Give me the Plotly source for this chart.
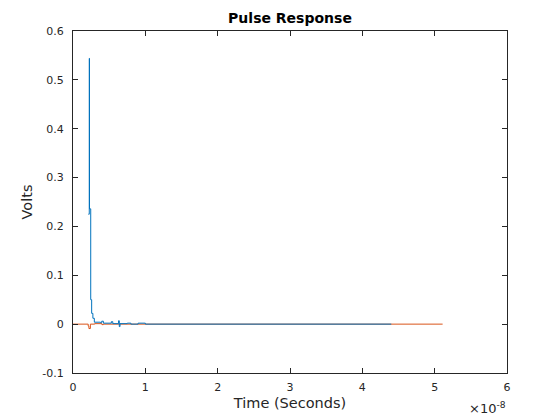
"""
Pulse response plot (MATLAB-like styling) with Plotly.
"""

import plotly.graph_objects as go

# time in nanoseconds, converted to seconds below
t_blue_ns = [2.12, 2.25, 2.28, 2.45, 2.58, 2.75, 2.95, 3.8, 3.97, 4.2, 5.3, 5.5,
             6.3, 6.4, 6.5, 7.5, 8.0, 9.0, 10.0, 44.0]
v_blue = [0.225, 0.544, 0.236, 0.05, 0.022, 0.012, 0.004, 0.003, 0.006, 0.002,
          0.005, 0.001, 0.007, -0.005, 0.001, 0.002, 0.0, 0.002, 0.0, 0.0]

t_orange_ns = [0.0, 2.1, 2.2, 2.4, 3.0, 4.0, 4.2, 51.1]
v_orange = [0.0, -0.004, -0.009, 0.0, 0.001, -0.001, 0.0, 0.0]

x_ticks = [0, 1, 2, 3, 4, 5, 6]
y_ticks = [-0.1, 0, 0.1, 0.2, 0.3, 0.4, 0.5, 0.6]
y_tick_labels = ["-0.1", "0", "0.1", "0.2", "0.3", "0.4", "0.5", "0.6"]

fig = go.Figure()

fig.add_trace(
    go.Scatter(
        x=[t * 1e-9 for t in t_orange_ns],
        y=v_orange,
        mode="lines",
        line=dict(color="#D95319", width=1, shape="hv"),
        showlegend=False,
    )
)
fig.add_trace(
    go.Scatter(
        x=[t * 1e-9 for t in t_blue_ns],
        y=v_blue,
        mode="lines",
        line=dict(color="#0072BD", width=1, shape="hv"),
        showlegend=False,
    )
)

axis_style = dict(
    showline=True,
    linecolor="#262626",
    linewidth=1,
    mirror="ticks",
    ticks="inside",
    ticklen=5,
    tickcolor="#262626",
    showgrid=False,
    zeroline=False,
    tickfont=dict(size=11, color="#262626"),
)

# the page has an 8px body margin, so the figure is 8px smaller than the window
fig.update_layout(
    width=552,
    height=412,
    margin=dict(l=65, r=53, t=23, b=47),
    paper_bgcolor="white",
    plot_bgcolor="white",
    font=dict(family="DejaVu Sans", color="#262626"),
    title=dict(
        text="<b>Pulse Response</b>",
        x=(65 + 499) / 2 / 552,
        xanchor="center",
        y=1 - 10.5 / 412,
        yanchor="middle",
        font=dict(size=14, color="black"),
    ),
    xaxis=dict(
        range=[0, 6e-8],
        tickvals=[v * 1e-8 for v in x_ticks],
        ticktext=[str(v) for v in x_ticks],
        ticklabelstandoff=4,
        title=dict(text="Time (Seconds)", font=dict(size=14.5), standoff=4),
        **axis_style,
    ),
    yaxis=dict(
        range=[-0.1, 0.6],
        tickvals=y_ticks,
        ticktext=y_tick_labels,
        ticklabelstandoff=6,
        title=dict(text="Volts", font=dict(size=14.5), standoff=6),
        **axis_style,
    ),
)

fig.add_annotation(
    text="×10<sup>-8</sup>",
    xref="paper",
    yref="paper",
    x=1.0,
    y=-0.13,
    xanchor="right",
    yanchor="bottom",
    showarrow=False,
    borderpad=0,
    font=dict(size=13, color="#262626"),
)

fig.write_html("out.html")
